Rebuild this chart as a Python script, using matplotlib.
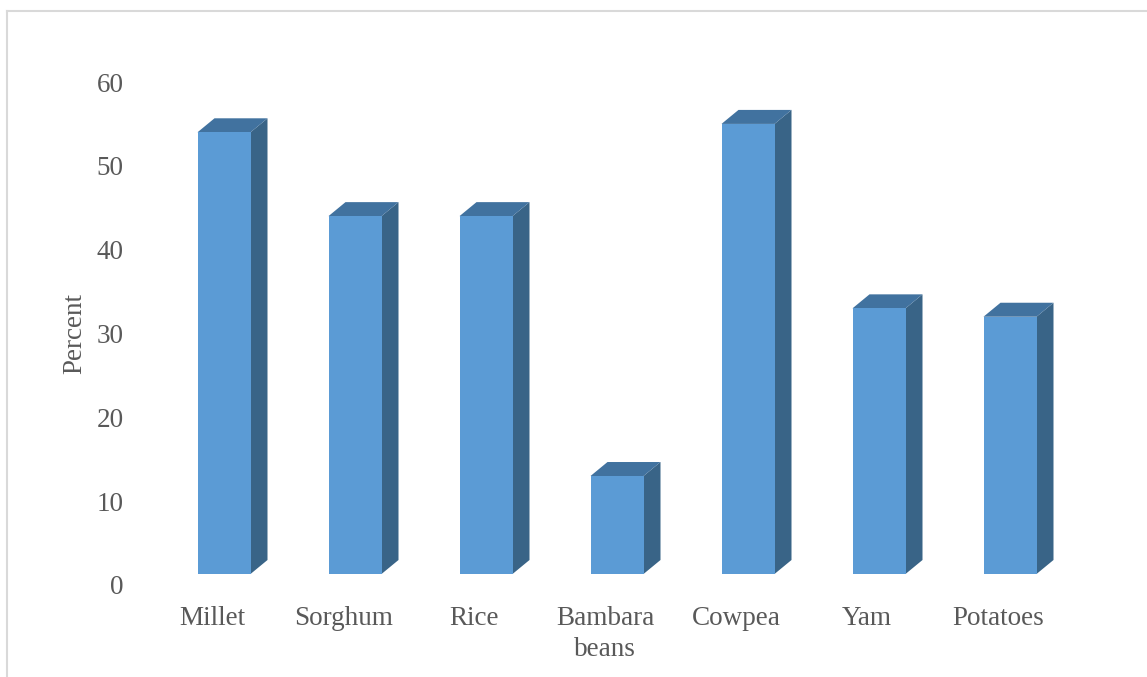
import matplotlib
matplotlib.use("Agg")
import matplotlib.pyplot as plt
from matplotlib.patches import Polygon
from matplotlib.lines import Line2D

crops = ["Millet", "Sorghum", "Rice", "Bambara\nbeans", "Cowpea", "Yam", "Potatoes"]
percent = [54, 44, 44, 13, 55, 33, 32]
yticks = [0, 10, 20, 30, 40, 50, 60]

FRONT = "#5b9bd5"
SIDE = "#396487"
TOP = "#41729f"
TEXT = "#595959"
BORDER = "#d9d9d9"
FS = 19.5

W, H = 1147, 677
fig = plt.figure(figsize=(W / 100, H / 100), dpi=100)
plt.rcParams["font.family"] = ["Liberation Serif", "DejaVu Serif"]

# plot area in pixels: x -0.5..6.5 -> 158..1076, y 0..60 -> 585..82 (from top)
left, right = 158.5, 1075.5
bottom, top = 585, 82
ax = fig.add_axes([left / W, (H - bottom) / H, (right - left) / W, (bottom - top) / H])
ax.set_xlim(-0.5, 6.5)
ax.set_ylim(0, 60)

px_x = 7.0 / (right - left)          # data units per pixel
px_y = 60.0 / (bottom - top)
bw = 53 * px_x                       # front face width
dx, dy = 17 * px_x, 14 * px_y        # depth offset of the 3d box
lift = 11 * px_y                     # front floor sits above the back floor

for i, v in enumerate(percent):
    x0 = i - bw / 2
    x1 = i + bw / 2
    ax.bar(i, v - lift, bottom=lift, width=bw, color=FRONT, edgecolor="none", zorder=3)
    ax.add_patch(Polygon([(x1, lift), (x1 + dx, lift + dy), (x1 + dx, v + dy), (x1, v)],
                         closed=True, facecolor=SIDE, edgecolor="none", zorder=2))
    ax.add_patch(Polygon([(x0, v), (x0 + dx, v + dy), (x1 + dx, v + dy), (x1, v)],
                         closed=True, facecolor=TOP, edgecolor="none", zorder=2))

for s in ax.spines.values():
    s.set_visible(False)
ax.set_yticks(yticks)
ax.tick_params(axis="y", length=0, pad=25, labelsize=FS, labelcolor=TEXT)
ax.set_xticks([i - 0.09 for i in range(len(crops))])
ax.set_xticklabels(crops, linespacing=1.35)
ax.tick_params(axis="x", length=0, pad=15, labelsize=FS, labelcolor=TEXT)
fig.text(75 / W, 1 - 333 / H, "Percent", rotation=90, ha="center", va="center",
         fontsize=FS, color=TEXT)

# chart area frame, top and left edges
fig.add_artist(Line2D([7 / W, 7 / W], [0, 1 - 11 / H], color=BORDER, lw=1.5))
fig.add_artist(Line2D([7 / W, 1], [1 - 11 / H, 1 - 11 / H], color=BORDER, lw=1.5))

fig.savefig("out.png", dpi=100)
